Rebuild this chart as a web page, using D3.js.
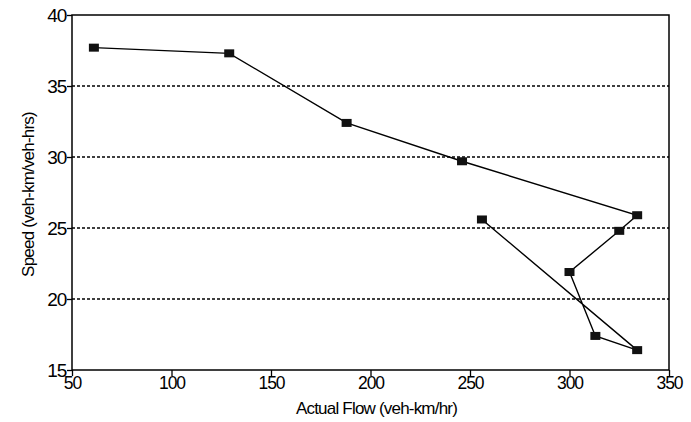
<!DOCTYPE html>
<html><head><meta charset="utf-8">
<script src="https://cdn.jsdelivr.net/npm/d3@7"></script>
<style>body{margin:0;background:#fff}svg{display:block}text{font-family:"Liberation Sans",Arial,sans-serif;fill:#000}</style>
</head><body><svg id="c" width="691" height="422"></svg>
<script>
const flow = [61, 129, 188, 246, 334, 325, 300, 313, 334, 256];
const speed = [37.7, 37.3, 32.4, 29.7, 25.9, 24.8, 21.9, 17.4, 16.4, 25.6];
const xTicks = [50, 100, 150, 200, 250, 300, 350];
const yTicks = [15, 20, 25, 30, 35, 40];
const gridValues = [20, 25, 30, 35];
const xTitle = "Actual Flow (veh-km/hr)";
const yTitle = "Speed (veh-km/veh-hrs)";

const svg = d3.select("#c");
const m = {l: 72, r: 22, t: 15, b: 52};
const W = 691, H = 422;
const x = d3.scaleLinear().domain([50, 350]).range([m.l, W - m.r]);
const y = d3.scaleLinear().domain([15, 40]).range([H - m.b, m.t]);

svg.append("g").selectAll("line").data(gridValues).join("line")
  .attr("x1", m.l).attr("x2", W - m.r)
  .attr("y1", d => y(d)).attr("y2", d => y(d))
  .attr("stroke", "#000").attr("stroke-width", 1.3).attr("stroke-dasharray", "3,2");

svg.append("rect").attr("x", m.l).attr("y", m.t)
  .attr("width", W - m.r - m.l).attr("height", H - m.b - m.t)
  .attr("fill", "none").attr("stroke", "#000").attr("stroke-width", 1.5);

const xa = svg.append("g").attr("transform", `translate(0,${H - m.b})`)
  .call(d3.axisBottom(x).tickValues(xTicks).tickSize(6).tickPadding(1).tickFormat(d3.format("d")));
xa.select(".domain").remove();
xa.selectAll("line").attr("stroke-width", 1.3);
xa.selectAll("text").attr("font-size", 17.5).style("letter-spacing", "-1px").attr("fill", "#000");

const ya = svg.append("g").attr("transform", `translate(${m.l},0)`)
  .call(d3.axisLeft(y).tickValues(yTicks).tickSize(5).tickPadding(1).tickFormat(d3.format("d")));
ya.select(".domain").remove();
ya.selectAll("line").attr("stroke-width", 1.3);
ya.selectAll("text").attr("font-size", 19).style("letter-spacing", "-1.2px").attr("fill", "#000");

const pts = flow.map((f, i) => [f, speed[i]]);
svg.append("path").datum(pts)
  .attr("d", d3.line().x(d => x(d[0])).y(d => y(d[1])))
  .attr("fill", "none").attr("stroke", "#000").attr("stroke-width", 1.4);

svg.append("g").selectAll("rect").data(pts).join("rect")
  .attr("x", d => x(d[0]) - 5).attr("y", d => y(d[1]) - 4)
  .attr("width", 10).attr("height", 8).attr("fill", "#111");

svg.append("text").attr("x", (m.l + W - m.r) / 2 + 6).attr("y", 414)
  .attr("text-anchor", "middle").attr("font-size", 17).style("letter-spacing", "-0.8px").text(xTitle);
svg.append("text").attr("transform", `translate(34,${(m.t + H - m.b) / 2 + 2}) rotate(-90)`)
  .attr("text-anchor", "middle").attr("font-size", 17).style("letter-spacing", "-0.8px").text(yTitle);
</script></body></html>
